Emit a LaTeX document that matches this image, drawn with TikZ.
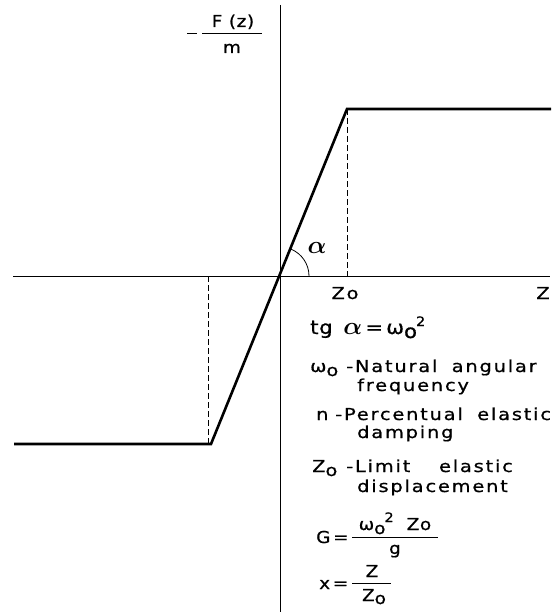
\documentclass[tikz,border=0pt]{standalone}
\usepackage{fontspec}
\setmainfont{DejaVu Sans}[FakeStretch=1.18, LetterSpace=11, WordSpace=1.8, FakeBold=0.8]
\newfontfamily\fml{DejaVu Sans}[FakeStretch=1.12, LetterSpace=4, FakeBold=0.8]
\newcommand{\omsub}{ω\raisebox{-4bp}{o}}
\newcommand{\omsq}{ω\raisebox{-4bp}{o}\kern-1bp\raisebox{8bp}{\fontsize{13}{15}\selectfont 2}}
\begin{document}
\begin{tikzpicture}[x=1bp,y=-1bp,
  axis/.style={line width=1bp},
  curve/.style={line width=2.6bp},
  guide/.style={line width=0.8bp, dash pattern=on 6bp off 3bp},
  lbl/.style={font=\fontsize{16.5}{20}\selectfont, inner sep=0pt},
  flbl/.style={font=\fml\fontsize{16.5}{20}\selectfont, inner sep=0pt},
  big/.style={font=\fml\fontsize{19}{24}\selectfont, inner sep=0pt},
  fbar/.style={line width=0.9bp}]
\useasboundingbox (0,0) rectangle (556,612);
% axes
\coordinate (O) at (280,276);
\coordinate (ytop) at (280,5);
\coordinate (ybot) at (280,612);
\coordinate (xl) at (13,276);
\coordinate (xr) at (550,276);
\draw[axis] (xl) -- (xr);
\draw[axis] (ytop) -- (ybot);
% characteristic
\coordinate (P) at (347,109);
\coordinate (Pr) at (551,109);
\coordinate (Q) at (211,444);
\coordinate (Ql) at (14,444);
\coordinate (Pz) at (347,276);
\coordinate (Qz) at (208,276);
\draw[curve] (Ql) -- (Q) -- (P) -- (Pr);
\draw[guide] (P) -- (Pz);
\draw[guide] (Qz) -- (208,444);
% angle
\draw[line width=0.8bp] (O) ++(29,0) arc[start angle=0,end angle=-68.1,radius=29];
\node[font=\fontsize{28}{32}\selectfont\boldmath, inner sep=0pt] (alpha) at (317,248) {$\alpha$};
% axis labels
\node[flbl, anchor=base] (Fz) at (233,27) {F (z)};
\coordinate (fb1) at (202,33); \coordinate (fb2) at (262,33);
\draw[fbar] (fb1) -- (fb2);
\coordinate (mi1) at (187,33); \coordinate (mi2) at (197,33);
\draw[fbar] (mi1) -- (mi2);
\node[flbl, anchor=base] (m) at (232,53) {m};
\node[lbl, anchor=base] (Zo) at (345,299) {Zo};
\node[lbl, anchor=base] (Z) at (543,299) {Z};
% legend
\node[big, anchor=base west] (tg) at (310,334) {tg\, {\fontsize{25}{28}\selectfont\boldmath$\alpha$}\,=\,\omsq};
\node[lbl, anchor=base west] (om) at (310,372) {\omsub};
\node[lbl, anchor=base west] (nat) at (346,372) {-Natural angular};
\node[lbl, anchor=base west] (freq) at (357,391) {frequency};
\node[lbl, anchor=base west] (n) at (316,420) {n};
\node[lbl, anchor=base west] (perc) at (335,420) {-Percentual elastic};
\node[lbl, anchor=base west] (damp) at (357,438) {damping};
\node[lbl, anchor=base west] (zo2) at (312,472) {Z\raisebox{-4bp}{o}};
\node[lbl, anchor=base west] (lim) at (346,472) {-Limit\ \ elastic};
\node[lbl, anchor=base west] (disp) at (357,492) {displacement};
% G formula
\node[flbl, anchor=base west] (G) at (316,543) {G\,=};
\node[flbl, anchor=base] (Gnum) at (395,530) {\omsq\ \ Zo};
\node[flbl, anchor=base] (Gden) at (395,554) {g};
\coordinate (gb1) at (352,537); \coordinate (gb2) at (438,537);
\draw[fbar] (gb1) -- (gb2);
% x formula
\node[flbl, anchor=base west] (x) at (319,589) {x\,=};
\node[flbl, anchor=base] (xnum) at (372,577) {Z};
\node[flbl, anchor=base] (xden) at (374,601) {Z\raisebox{-3bp}{o}};
\coordinate (xb1) at (352,583); \coordinate (xb2) at (391,583);
\draw[fbar] (xb1) -- (xb2);
\end{tikzpicture}
\end{document}
